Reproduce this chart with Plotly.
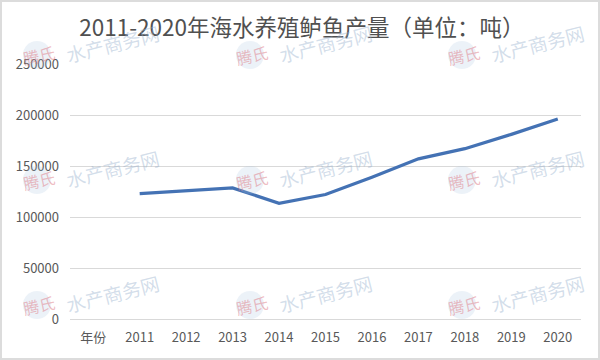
import plotly.graph_objects as go

categories = ["年份", "2011", "2012", "2013", "2014", "2015", "2016", "2017", "2018", "2019", "2020"]
output_tons = [None, 123000, 125800, 128500, 113500, 122000, 139000, 157000, 167000, 181000, 196000]
y_ticks = [0, 50000, 100000, 150000, 200000, 250000]
title_text = "2011-2020年海水养殖鲈鱼产量（单位：吨）"
watermark_brand = "腾氏"
watermark_site = "水产商务网"

W, H = 600, 360
L, R, T, B = 70, 19, 64, 41
pw, ph = W - L - R, H - T - B


def px(x):
    return (x - L) / pw


def py(y):
    return (H - B - y) / ph


fig = go.Figure()
fig.add_trace(go.Scatter(
    x=categories, y=output_tons, mode="lines",
    line=dict(color="#4472B4", width=3.2),
    connectgaps=False, hoverinfo="skip", showlegend=False,
))

annotations = []
shapes = []
cols = [37, 250, 462]
rows = [55, 180, 305]
for cy in rows:
    for cx in cols:
        shapes.append(dict(type="circle", xref="paper", yref="paper",
                           x0=px(cx - 14), x1=px(cx + 14), y0=py(cy + 14), y1=py(cy - 14),
                           fillcolor="rgba(170,195,225,0.22)", line=dict(width=0), layer="above"))
        annotations.append(dict(text=watermark_brand, xref="paper", yref="paper",
                                x=px(cx + 2), y=py(cy), xanchor="center", yanchor="middle",
                                showarrow=False, textangle=-12,
                                font=dict(family="Noto Sans CJK SC", size=16, color="rgba(220,110,120,0.45)")))
        annotations.append(dict(text=watermark_site, xref="paper", yref="paper",
                                x=px(cx + 75), y=py(cy - 12), xanchor="center", yanchor="middle",
                                showarrow=False, textangle=-14,
                                font=dict(family="Noto Sans CJK SC", size=19, color="rgba(150,175,205,0.42)")))

shapes.append(dict(type="rect", xref="paper", yref="paper",
                   x0=px(1), x1=px(W - 1), y0=py(H - 1), y1=py(1),
                   line=dict(color="#dcdcdc", width=2), layer="below"))

fig.update_layout(
    width=W, height=H,
    margin=dict(l=L, r=R, t=T, b=B),
    paper_bgcolor="#ffffff", plot_bgcolor="#ffffff",
    title=dict(text=title_text, x=0.503, xanchor="center", y=1 - 28 / H, yanchor="middle",
               font=dict(family="Noto Sans CJK SC", size=22.5, color="#505050")),
    xaxis=dict(type="category", categoryorder="array", categoryarray=categories,
               range=[-0.5, len(categories) - 0.5],
               showgrid=False, showline=False, zeroline=False, ticks="",
               ticklabelstandoff=9,
               tickfont=dict(family="Noto Sans CJK SC", size=13, color="#595959")),
    yaxis=dict(range=[0, 250000], tickvals=y_ticks, ticktext=[str(v) for v in y_ticks],
               showgrid=True, gridcolor="#d9d9d9", gridwidth=1,
               zeroline=True, zerolinecolor="#d9d9d9", zerolinewidth=1,
               showline=False, ticks="", ticklabelstandoff=10,
               tickfont=dict(family="Noto Sans CJK SC", size=13, color="#595959")),
    annotations=annotations,
    shapes=shapes,
)

fig.write_html("out.html", config={"displayModeBar": False},
               post_script="document.body.style.margin='0';")
